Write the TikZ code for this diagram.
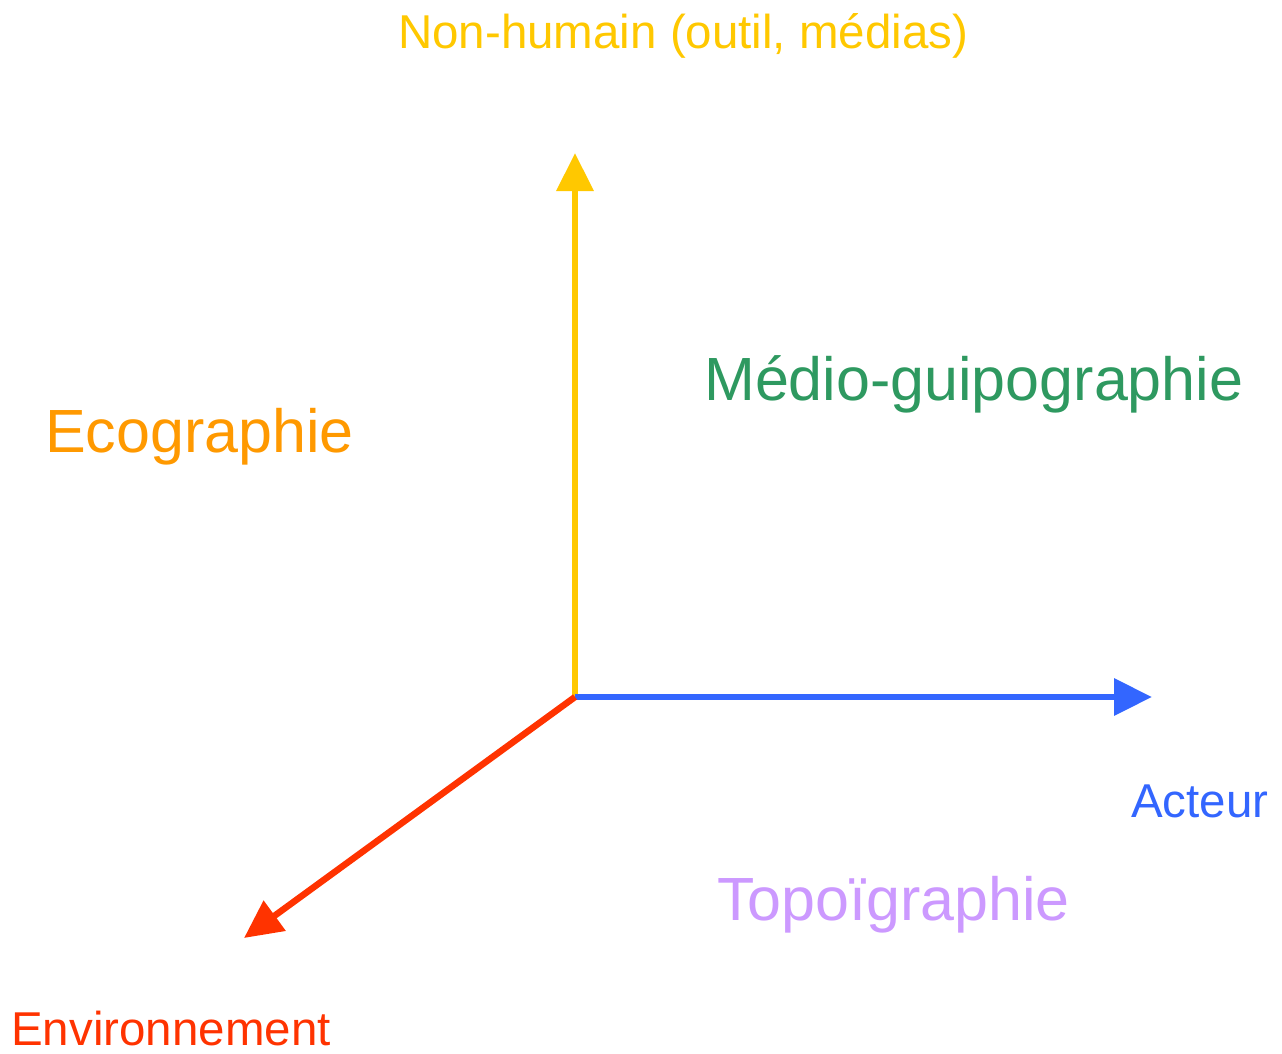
\documentclass[tikz,border=0pt]{standalone}
\usepackage{fontspec}
\setmainfont{Liberation Sans}
\usetikzlibrary{arrows.meta}
\definecolor{cyellow}{RGB}{255,200,0}
\definecolor{corange}{RGB}{255,153,0}
\definecolor{cgreen}{RGB}{46,153,96}
\definecolor{cblue}{RGB}{51,102,255}
\definecolor{clilac}{RGB}{204,153,255}
\definecolor{cred}{RGB}{255,51,0}
\begin{document}
\begin{tikzpicture}[x=1pt,y=-1pt,
  axis/.style={line width=6.5pt,-{Triangle[length=38pt,width=36pt]}},
  big/.style={inner sep=0pt,anchor=base west,font=\fontsize{61}{72}\selectfont},
  small/.style={inner sep=0pt,anchor=base west,font=\fontsize{47.5}{56}\selectfont}]
\useasboundingbox[fill=white] (0,0) rectangle (1282,1054);
\coordinate (O) at (575,697);
\coordinate (Ytip) at (575,153);
\coordinate (Xtip) at (1152,697);
\coordinate (Ztip) at (244,938);
\draw[axis,cyellow] (O) -- (Ytip);
\draw[axis,cblue] (O) -- (Xtip);
\draw[axis,cred] (O) -- (Ztip);
\node[small,text=cyellow] (nh) at (398,49) {Non-humain (outil, médias)};
\node[big,text=corange] (eco) at (45,452) {Ecographie};
\node[big,text=cgreen] (med) at (704,400) {Médio-guipographie};
\node[small,text=cblue] (act) at (1131,817) {Acteur};
\node[big,text=clilac] (topo) at (717,920) {Topoïgraphie};
\node[small,text=cred] (env) at (11,1045) {Environnement};
\end{tikzpicture}
\end{document}
